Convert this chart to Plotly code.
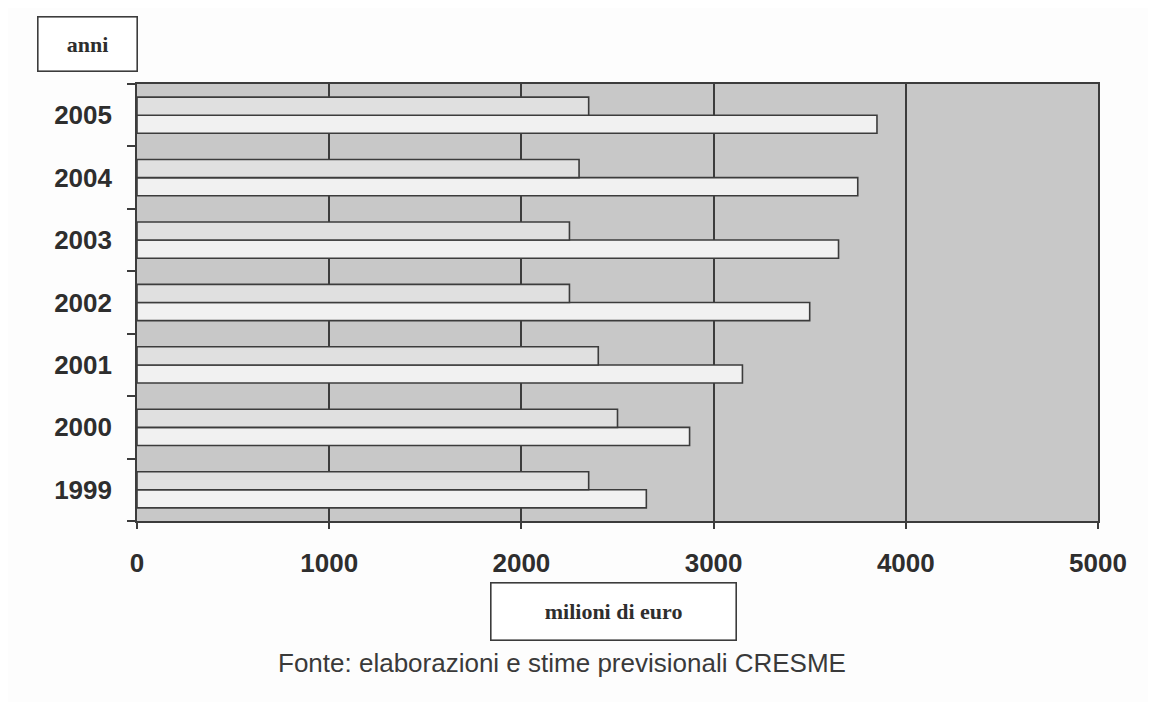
import plotly.graph_objects as go

years = ["1999", "2000", "2001", "2002", "2003", "2004", "2005"]
series_a = [2650, 2875, 3150, 3500, 3650, 3750, 3850]   # lower (longer) bar
series_b = [2350, 2500, 2400, 2250, 2250, 2300, 2350]   # upper (shorter) bar
x_ticks = [0, 1000, 2000, 3000, 4000, 5000]

OFF = 8  # page body margin
W, H = 1156 - OFF, 702 - OFF
# target plot area in page pixels
PL, PR, PT, PB = 137, 1098, 84, 521
L, T = PL - OFF, PT - OFF
R = W - (PR - OFF)
B = H - (PB - OFF)
pw, ph = PR - PL, PB - PT

def px(x):
    return (x - PL) / pw

def py(y):
    return (PB - y) / ph

edge = "#3c3c3c"
txt = "#2e2e2e"
fig = go.Figure()
fig.add_trace(go.Bar(y=years, x=series_a, orientation="h", name="A",
                     marker=dict(color="#f1f1f1", line=dict(color=edge, width=1.6))))
fig.add_trace(go.Bar(y=years, x=series_b, orientation="h", name="B",
                     marker=dict(color="#e0e0e0", line=dict(color=edge, width=1.6))))

fig.update_layout(
    width=W, height=H,
    margin=dict(l=L, r=R, t=T, b=B),
    barmode="group", bargap=0.42, bargroupgap=0,
    showlegend=False,
    paper_bgcolor="#fdfdfd", plot_bgcolor="#c8c8c8",
    font=dict(family="Liberation Sans, Arial", color=txt),
    xaxis=dict(range=[0, 5000], tickvals=x_ticks, ticktext=["<b>%d</b>" % v for v in x_ticks],
               showgrid=True, gridcolor=edge, gridwidth=1.6,
               showline=True, linecolor=edge, linewidth=1.6, mirror=True,
               ticks="outside", ticklen=6, tickcolor=edge, tickwidth=1.6,
               tickfont=dict(size=26, family="Liberation Sans, Arial", color=txt),
               ticklabelstandoff=12, zeroline=False, fixedrange=True),
    yaxis=dict(tickvals=years, ticktext=["<b>%s</b>" % y for y in years],
               showgrid=False, showline=True, linecolor=edge, linewidth=1.6, mirror=True,
               ticks="outside", ticklen=8, tickcolor=edge, tickwidth=1.6, tickson="boundaries",
               tickfont=dict(size=26, family="Liberation Sans, Arial", color=txt),
               ticklabelstandoff=18, fixedrange=True),
    annotations=[
        dict(text="<b>anni</b>", xref="paper", yref="paper", x=px(87), y=py(44.5),
             xanchor="center", yanchor="middle",
             showarrow=False, width=96, height=51, bordercolor=edge, borderwidth=1.6,
             bgcolor="#ffffff", font=dict(family="Liberation Serif, Times New Roman", size=22, color=txt)),
        dict(text="<b>milioni di euro</b>", xref="paper", yref="paper", x=px(613), y=py(611),
             xanchor="center", yanchor="middle",
             showarrow=False, width=242, height=54, bordercolor=edge, borderwidth=1.6,
             bgcolor="#ffffff", font=dict(family="Liberation Serif, Times New Roman", size=22, color=txt)),
        dict(text="Fonte: elaborazioni e stime previsionali CRESME", xref="paper", yref="paper",
             x=px(562), y=py(663), xanchor="center", yanchor="middle", showarrow=False,
             font=dict(family="Liberation Sans, Arial", size=26, color="#3a3a3a")),
    ],
)

fig.write_html("out.html")
